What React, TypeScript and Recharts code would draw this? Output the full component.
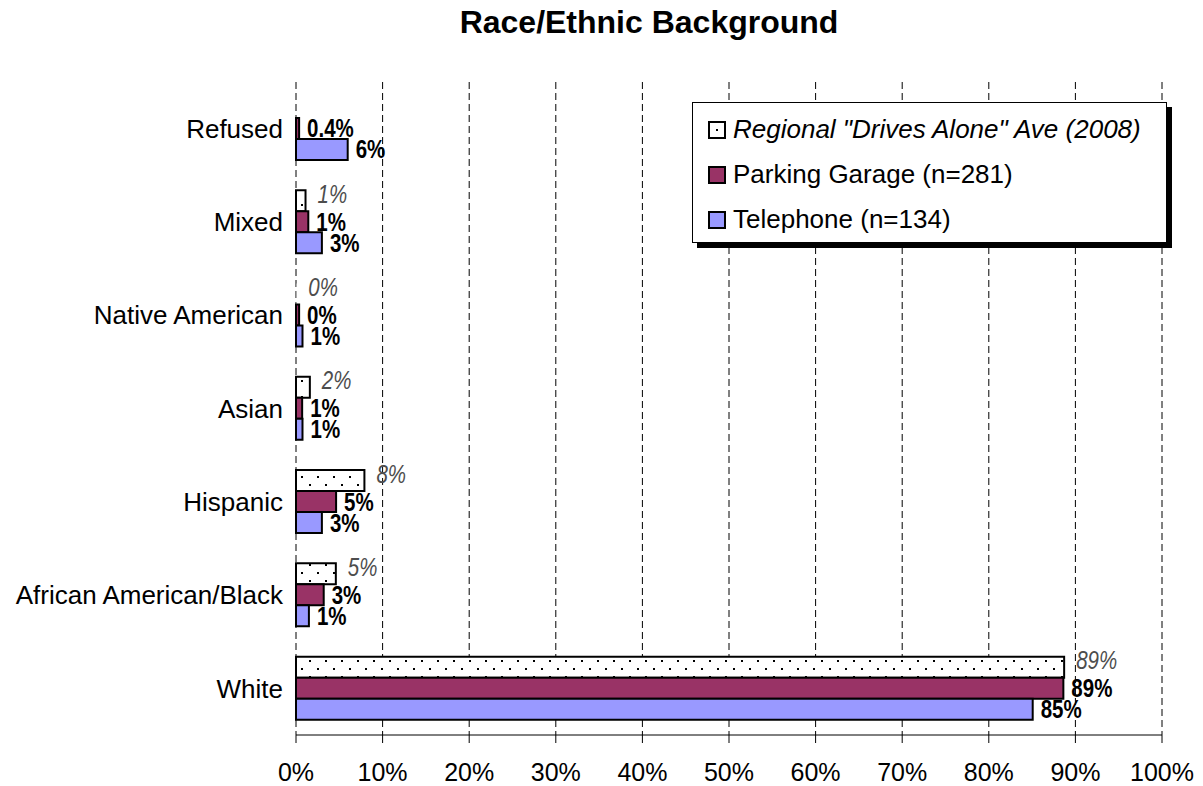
import { Bar, BarChart, CartesianGrid, Cell, LabelList, Legend, XAxis, YAxis } from "recharts";

// Survey categories, top to bottom
const categories = [
  "Refused",
  "Mixed",
  "Native American",
  "Asian",
  "Hispanic",
  "African American/Black",
  "White",
];

// Percent of respondents per category
const regional = [null, 1.1, 0.04, 1.6, 7.9, 4.6, 88.7];
const parking = [0.36, 1.42, 0.36, 0.71, 4.63, 3.2, 88.61];
const telephone = [5.97, 2.99, 0.75, 0.75, 2.99, 1.49, 85.07];

// decimals shown on the parking garage labels
const parkingDigits = [1, 0, 0, 0, 0, 0, 0];

const xTicks = [0, 10, 20, 30, 40, 50, 60, 70, 80, 90, 100];
// category boundaries, used for the tick marks on the left axis
const edgeTicks = categories.map((_, i) => i).concat(categories.length);

const rows = categories.map((name, i) => ({
  name,
  regional: regional[i],
  parking: parking[i],
  telephone: telephone[i],
}));

const FONT = '"Liberation Sans", Arial, sans-serif';

const series = [
  { key: "regional", name: 'Regional "Drives Alone" Ave (2008)', fill: "url(#dots)", swatch: "#ffffff", italic: true, values: regional },
  { key: "parking", name: "Parking Garage (n=281)", fill: "#993366", swatch: "#993366", italic: false, values: parking },
  { key: "telephone", name: "Telephone (n=134)", fill: "#9999ff", swatch: "#9999ff", italic: false, values: telephone },
];

// value labels in a condensed face: Liberation Sans squeezed horizontally
function makeLabel(key: string) {
  return (props: any) => {
    const { x, y, width, height, value, index } = props;
    if (value == null || Number.isNaN(Number(value))) return null;
    const digits = key === "parking" ? parkingDigits[index] ?? 0 : 0;
    const text = `${Number(value).toFixed(digits)}%`;
    const isRegional = key === "regional";
    const tx = Number(x) + Number(width) + (isRegional ? 12 : 8);
    const ty = Number(y) + Number(height) / 2 + (isRegional ? -7 : 0);
    return (
      <g transform={`translate(${tx},${ty}) scale(0.82,1)`}>
        <text
          x={0}
          y={0}
          dy="0.36em"
          fontFamily={FONT}
          fontSize={25}
          fontStyle={isRegional ? "italic" : "normal"}
          fontWeight={isRegional ? "normal" : "bold"}
          fill={isRegional ? "#4d4d4d" : "#000"}
        >
          {text}
        </text>
      </g>
    );
  };
}

function LegendBox() {
  return (
    <div
      style={{
        width: 475,
        height: 141,
        boxSizing: "border-box",
        border: "1px solid #000",
        background: "#fff",
        boxShadow: "5px 5px 0 #000",
        paddingTop: 4,
        fontFamily: FONT,
        fontSize: 26,
        color: "#000",
      }}
    >
      {series.map((s) => (
        <div key={s.key} style={{ display: "flex", alignItems: "center", height: 45, paddingLeft: 15 }}>
          <svg width={18} height={18} style={{ marginRight: 7, flex: "none" }}>
            <rect x={1} y={1} width={16} height={16} fill={s.swatch} stroke="#000" strokeWidth={2} />
            {s.key === "regional" && <rect x={8} y={8} width={2} height={2} fill="#000" />}
          </svg>
          <span style={{ fontStyle: s.italic ? "italic" : "normal", whiteSpace: "nowrap" }}>{s.name}</span>
        </div>
      ))}
    </div>
  );
}

export default function App() {
  return (
    <div style={{ position: "absolute", left: 0, top: 0, width: 1203, height: 786, background: "#fff" }}>
      <BarChart
        width={1203}
        height={786}
        data={rows}
        layout="vertical"
        margin={{ top: 82, right: 41, bottom: 0, left: 0 }}
        barCategoryGap="16%"
        barGap={0}
      >
        <defs>
          <pattern id="dots" width={16} height={16} patternUnits="userSpaceOnUse">
            <rect width={16} height={16} fill="#fff" />
            <rect x={5} y={4} width={2} height={2} fill="#000" />
            <rect x={13} y={12} width={2} height={2} fill="#000" />
          </pattern>
        </defs>
        <CartesianGrid horizontal={false} stroke="#000" strokeDasharray="7 4" yAxisId="cat" />
        <XAxis
          type="number"
          domain={[0, 100]}
          ticks={xTicks}
          tickFormatter={(v) => `${v}%`}
          height={51}
          tickSize={8}
          tickMargin={20}
          axisLine={{ stroke: "#000" }}
          tickLine={{ stroke: "#000" }}
          tick={{ fill: "#000", fontSize: 25, fontFamily: FONT }}
          interval={0}
        />
        <YAxis
          yAxisId="edge"
          type="number"
          domain={[0, categories.length]}
          ticks={edgeTicks}
          width={0}
          tick={() => <g />}
          tickSize={8}
          axisLine={{ stroke: "#808080" }}
          tickLine={{ stroke: "#000" }}
        />
        <YAxis
          yAxisId="cat"
          type="category"
          dataKey="name"
          width={296}
          tickSize={8}
          tickMargin={5}
          axisLine={false}
          tickLine={false}
          tick={{ fill: "#000", fontSize: 26, fontFamily: FONT }}
          interval={0}
        />
        <Legend
          layout="vertical"
          align="center"
          verticalAlign="middle"
          content={() => <LegendBox />}
          wrapperStyle={{ left: 692, top: 102, width: 475, height: 141 }}
        />
        {series.map((s) => (
          <Bar
            key={s.key}
            yAxisId="cat"
            dataKey={s.key}
            name={s.name}
            fill={s.fill}
            stroke="#000"
            strokeWidth={2}
            isAnimationActive={false}
          >
            {s.values.map((v, i) => (
              // a near-zero share gets no outline, so only its label shows
              <Cell key={i} stroke={v != null && v < 0.1 ? "none" : "#000"} />
            ))}
            <LabelList dataKey={s.key} content={makeLabel(s.key)} />
          </Bar>
        ))}
      </BarChart>
      <div
        style={{
          position: "absolute",
          left: 449,
          top: 4,
          width: 400,
          textAlign: "center",
          fontFamily: FONT,
          fontWeight: "bold",
          fontSize: 32,
          whiteSpace: "nowrap",
        }}
      >
        Race/Ethnic Background
      </div>
    </div>
  );
}
